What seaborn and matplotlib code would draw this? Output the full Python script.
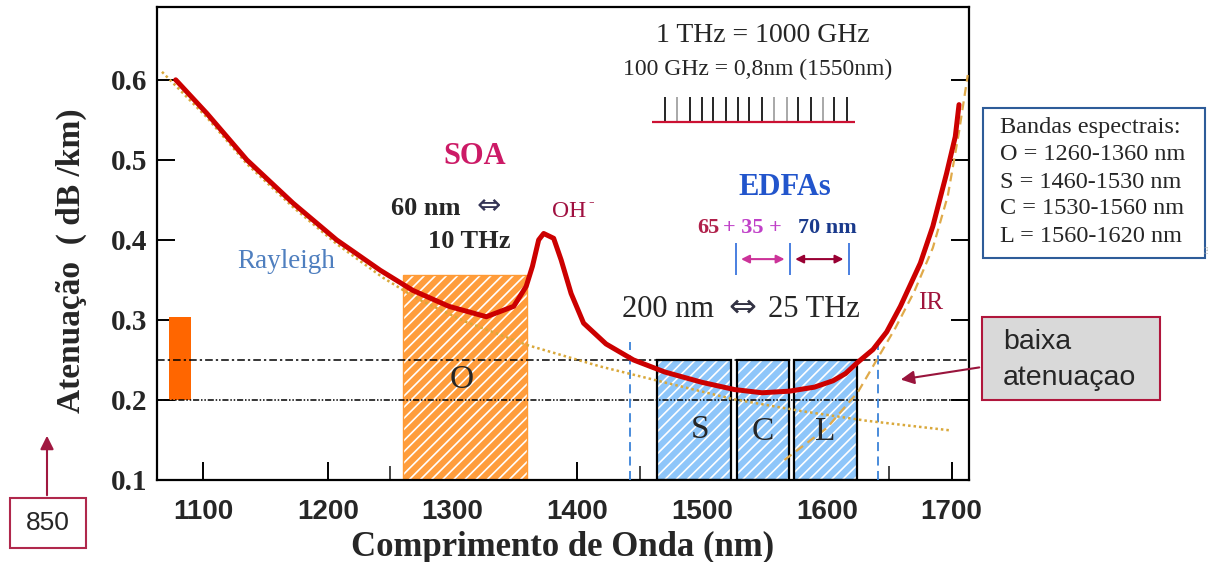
import matplotlib
matplotlib.use("Agg")
import matplotlib.pyplot as plt
import seaborn as sns

# ---------------------------------------------------------------
# Dados (comprimento de onda em nm, atenuacao em dB/km)
# ---------------------------------------------------------------
wl_fibra = [1078, 1103, 1135, 1172, 1207, 1242, 1268, 1297, 1327, 1349,
            1359, 1364, 1369, 1373, 1381, 1387, 1395, 1405, 1423, 1445,
            1470, 1500, 1526, 1548, 1570, 1590, 1605, 1615, 1624, 1637,
            1648, 1659, 1675, 1685, 1696, 1703, 1706]
att_fibra = [0.600, 0.558, 0.500, 0.446, 0.400, 0.362, 0.337, 0.317, 0.304, 0.317,
             0.342, 0.367, 0.400, 0.408, 0.402, 0.375, 0.333, 0.296, 0.270, 0.250,
             0.235, 0.222, 0.213, 0.209, 0.211, 0.216, 0.224, 0.233, 0.246, 0.263,
             0.285, 0.317, 0.371, 0.417, 0.483, 0.529, 0.569]

wl_rayleigh = [1067, 1103, 1135, 1172, 1207, 1244, 1271, 1310, 1359, 1418,
               1475, 1525, 1580, 1632, 1699]
att_rayleigh = [0.610, 0.553, 0.495, 0.441, 0.395, 0.353, 0.327, 0.298, 0.269, 0.242,
                0.220, 0.201, 0.186, 0.174, 0.162]

wl_ir = [1566, 1600, 1625, 1640, 1655, 1670, 1685, 1697, 1706, 1713]
att_ir = [0.125, 0.165, 0.210, 0.250, 0.290, 0.335, 0.390, 0.455, 0.535, 0.606]

# bandas desenhadas (O, S, C, L)
band_labels = ['O', 'S', 'C', 'L']
band_start = [1260, 1464, 1528, 1574]
band_end = [1360, 1523, 1570, 1624]
band_top = [0.356, 0.25, 0.25, 0.25]

# janela de 850 nm (retangulo laranja)
win850_start, win850_end = 1073, 1090
win850_low, win850_high = 0.20, 0.304

# limites de baixa atenuacao
baixa_limits = [0.25, 0.20]
edfa_limits = [1442, 1641]

# pente de canais (100 GHz)
canais_nm = [1470, 1480, 1490, 1500, 1509, 1519, 1529, 1538,
             1548, 1558, 1568, 1577, 1587, 1597, 1606, 1616]
canais_cinza = [1480, 1558, 1568, 1597]

# separadores EDFAs
edfa_marks = [1527, 1570.4, 1617.6]

legenda_bandas = ['Bandas espectrais:', 'O = 1260-1360 nm', 'S = 1460-1530 nm',
                  'C = 1530-1560 nm', 'L = 1560-1620 nm']

# ---------------------------------------------------------------
sns.set_style('ticks')
plt.rcParams['font.family'] = ['Liberation Serif', 'DejaVu Serif']
plt.rcParams['hatch.linewidth'] = 1.2
serif = ['Liberation Serif', 'DejaVu Serif']
sans = ['Liberation Sans', 'DejaVu Sans']
seta = ['DejaVu Sans']

W, H = 1208, 562
fig = plt.figure(figsize=(W / 100, H / 100), dpi=100)
ax = fig.add_axes([157 / W, 82 / H, 812 / W, 473 / H])

# bandas hachuradas
cores_banda = ['#ff9d3c', '#8ec6fa', '#8ec6fa', '#8ec6fa']
bordas_banda = ['#ff9a33', 'black', 'black', 'black']
for lab, x0, x1, top, fc, ec in zip(band_labels, band_start, band_end, band_top,
                                     cores_banda, bordas_banda):
    ax.bar(x0, top - 0.1, width=x1 - x0, bottom=0.1, align='edge',
           color=fc, edgecolor='white', hatch='///', linewidth=0, zorder=1)
    ax.bar(x0, top - 0.1, width=x1 - x0, bottom=0.1, align='edge',
           fill=False, edgecolor=ec, linewidth=1.6 if ec == 'black' else 1.0, zorder=2)

# janela 850
ax.bar(win850_start, win850_high - win850_low, width=win850_end - win850_start,
       bottom=win850_low, align='edge', color='#ff6600', linewidth=0, zorder=2)

# linhas horizontais de referencia
ax.axhline(baixa_limits[0], color='black', lw=1.1, ls=(0, (5, 2, 1.5, 2)), zorder=3)
ax.axhline(baixa_limits[1], color='black', lw=1.1, ls=(0, (1, 1.2, 1, 1.2, 4, 1.2)), zorder=3)

# limites verticais azuis
ax.vlines(edfa_limits, 0.1, 0.272, colors='#3a82d8', lw=1.3, linestyles=(0, (5, 3)), zorder=3)

# curvas
sns.lineplot(x=wl_rayleigh, y=att_rayleigh, ax=ax, color='#d9a83a', lw=1.8,
             linestyle=(0, (1, 1.2)), zorder=4)
sns.lineplot(x=wl_ir, y=att_ir, ax=ax, color='#e0aa4a', lw=1.6,
             linestyle=(0, (4, 2.5)), zorder=4)
sns.lineplot(x=wl_fibra, y=att_fibra, ax=ax, color='#cc0000', lw=3.6, zorder=5)

# pente de canais
for c in canais_nm:
    ax.vlines(c, 0.5475, 0.579, colors='#999999' if c in canais_cinza else 'black', lw=1.2)
ax.hlines(0.5475, 1459.8, 1622.4, colors='#cc1133', lw=1.6)

# textos
ax.text(1548.7, 0.656, '1 THz = 1000 GHz', ha='center', va='center', fontsize=20, family=serif)
ax.text(1544.7, 0.6125, '100 GHz = 0,8nm (1550nm)', ha='center', va='center', fontsize=17,
        family=serif)
ax.text(1318, 0.504, 'SOA', ha='center', va='center', fontsize=22, fontweight='bold',
        color='#cc1a66', family=serif)
ax.text(1251, 0.439, '60 nm', ha='left', va='center', fontsize=19, fontweight='bold',
        family=serif)
ax.text(1329, 0.442, '\u21d4', ha='center', va='center', fontsize=21, color='#333355', family=seta)
ax.text(1280, 0.3975, '10 THz', ha='left', va='center', fontsize=19, fontweight='bold', family=serif)
ax.text(1393, 0.435, 'OH', ha='center', va='center', fontsize=17, color='#a01040', family=serif)
ax.text(1408.5, 0.447, '-', ha='left', va='center', fontsize=12, color='#a01040', family=serif)
ax.text(1566, 0.465, 'EDFAs', ha='center', va='center', fontsize=22, fontweight='bold',
        color='#2255cc', family=serif)
ax.text(1495.8, 0.415, '65', ha='left', va='center', fontsize=16, fontweight='bold',
        color='#b0204a', family=serif)
ax.text(1516.7, 0.415, '+ 35 +', ha='left', va='center', fontsize=16, fontweight='bold',
        color='#c040c8', family=serif)
ax.text(1576.8, 0.415, '70 nm', ha='left', va='center', fontsize=16, fontweight='bold',
        color='#1a3a8c', family=serif)
ax.vlines(edfa_marks, 0.356, 0.396, colors='#4a7fe0', lw=1.4)
ax.annotate('', xy=(edfa_marks[0] + 2, 0.376), xytext=(edfa_marks[1] - 2, 0.376),
            arrowprops=dict(arrowstyle='<|-|>', color='#cc3399', lw=1.5, mutation_scale=12))
ax.annotate('', xy=(edfa_marks[1] + 2, 0.376), xytext=(edfa_marks[2] - 2, 0.376),
            arrowprops=dict(arrowstyle='<|-|>', color='#990033', lw=1.5, mutation_scale=12))
ax.text(1435.7, 0.3125, '200 nm', ha='left', va='center', fontsize=22, family=serif)
ax.text(1532, 0.3155, '\u21d4', ha='center', va='center', fontsize=24, color='#333344',
        family=seta)
ax.text(1552.7, 0.3125, '25 THz', ha='left', va='center', fontsize=22, family=serif)
ax.text(1166.5, 0.3725, 'Rayleigh', ha='center', va='center', fontsize=19.5, color='#4f7fbf',
        family=serif)
ax.text(1683, 0.321, 'IR', ha='center', va='center', fontsize=18, color='#a0143c', family=serif)
pos_letras = [(1307.5, 0.225), (1498, 0.1625), (1548.7, 0.16), (1599, 0.16)]
for lab, (px, py) in zip(band_labels, pos_letras):
    ax.text(px, py, lab, ha='center', va='center', fontsize=24, family=serif, zorder=6)

# eixos
ax.set_xlim(1063, 1714)
ax.set_ylim(0.1, 0.691)
ax.set_xticks([1100, 1200, 1300, 1400, 1500, 1600, 1700])
ax.set_xticks([1250, 1350, 1450, 1550, 1650], minor=True)
ax.set_yticks([0.1, 0.2, 0.3, 0.4, 0.5, 0.6])
ax.set_yticklabels(['0.1', '0.2', '0.3', '0.4', '0.5', '0.6'], fontsize=21,
                   fontweight='bold', family=serif)
ax.set_xticklabels(['1100', '1200', '1300', '1400', '1500', '1600', '1700'], fontsize=20,
                   fontweight='bold', family=sans)
ax.tick_params(axis='both', which='major', direction='in', length=13, width=1.4,
               color='black', right=True)
ax.tick_params(axis='x', which='major', pad=14)
ax.tick_params(axis='y', which='major', pad=7)
ax.tick_params(axis='x', which='minor', direction='in', length=10, width=1.2)
for s in ax.spines.values():
    s.set_linewidth(1.6)
    s.set_color('black')
ax.set_xlabel('Comprimento de Onda (nm)', fontsize=25, fontweight='bold', family=serif, labelpad=4)
ax.set_ylabel('Atenua\u00e7\u00e3o  ( dB /km)', fontsize=24, fontweight='bold', family=serif)
ax.yaxis.set_label_coords(-0.086, 0.463)

# caixa de legenda das bandas
fig.patches.append(plt.Rectangle((983 / W, 1 - 258 / H), 222 / W, 150 / H, transform=fig.transFigure,
                                 fill=False, edgecolor='#2e5c99', lw=1.5))
for i, linha in enumerate(legenda_bandas):
    fig.text(1000 / W, 1 - (128 + 27 * i) / H, linha, ha='left', va='center', fontsize=17.5,
             family=serif)
fig.text(1203 / W, 1 - 252 / H, '3', fontsize=8, color='#aaaaaa', family=serif, va='center')

# caixa baixa atenuacao
fig.patches.append(plt.Rectangle((982 / W, 1 - 400 / H), 178 / W, 83 / H, transform=fig.transFigure,
                                 facecolor='#d9d9d9', edgecolor='#b0163c', lw=1.5))
fig.text(1003 / W, 1 - 342 / H, 'baixa', ha='left', va='center', fontsize=20.5, family=sans)
fig.text(1003 / W, 1 - 378 / H, 'atenua\u00e7ao', ha='left', va='center', fontsize=20.5, family=sans)
ax.annotate('', xy=(898 / W, 1 - 380 / H), xytext=(982 / W, 1 - 367 / H),
            xycoords='figure fraction', textcoords='figure fraction', annotation_clip=False,
            arrowprops=dict(arrowstyle='-|>', color='#99143c', lw=1.5, mutation_scale=20))

# caixa 850
fig.patches.append(plt.Rectangle((10 / W, 1 - 548 / H), 76 / W, 50 / H, transform=fig.transFigure,
                                 facecolor='white', edgecolor='#b0284c', lw=1.5))
fig.text(48 / W, 1 - 523 / H, '850', ha='center', va='center', fontsize=19, family=sans)
ax.annotate('', xy=(47 / W, 1 - 433 / H), xytext=(47 / W, 1 - 498 / H),
            xycoords='figure fraction', textcoords='figure fraction', annotation_clip=False,
            arrowprops=dict(arrowstyle='-|>', color='#a01840', lw=1.5, mutation_scale=20))

fig.savefig('out.png', dpi=100)
